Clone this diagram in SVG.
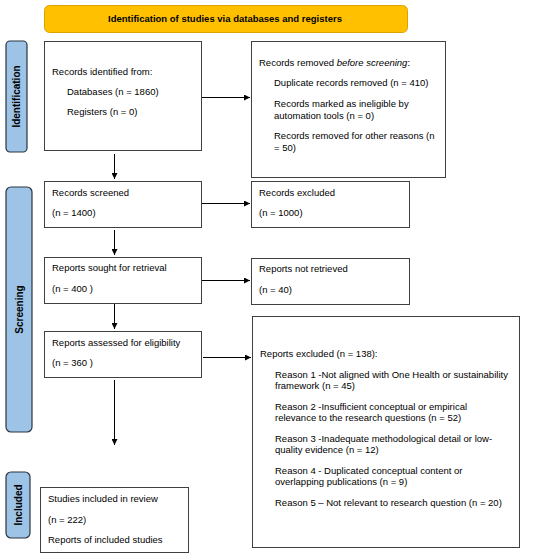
<svg xmlns="http://www.w3.org/2000/svg" width="550" height="556" viewBox="0 0 550 556">
<defs>
<marker id="ah" viewBox="0 0 10 10" refX="10" refY="5" markerWidth="6" markerHeight="6" markerUnits="userSpaceOnUse" orient="auto">
<path d="M0,0 L10,5 L0,10 z" fill="#000"/>
</marker>
<style>
text{font-family:"Liberation Sans",Arial,sans-serif;font-size:9.5px;fill:#000}
.box{fill:#fff;stroke:#404040;stroke-width:1}
.side{fill:#9DC3E6;stroke:#2a3440;stroke-width:1.2}
.lbl{font-weight:bold;font-size:10px}
.conn{stroke:#000;stroke-width:1;fill:none;marker-end:url(#ah)}
</style>
</defs>
<rect width="550" height="556" fill="#fff"/>
<g id="banner">
<rect x="44.5" y="5.5" width="363" height="27" rx="5" fill="#FFC000" stroke="#D9A400"/>
<text x="225" y="22" text-anchor="middle" font-weight="bold">Identification of studies via databases and registers</text>
</g>
<g id="side-identification">
<rect class="side" x="6" y="41" width="21" height="111" rx="4"/>
<text class="lbl" transform="translate(20,96.5) rotate(-90)" text-anchor="middle">Identification</text>
</g>
<g id="side-screening">
<rect class="side" x="6" y="187" width="26" height="245" rx="5"/>
<text class="lbl" transform="translate(22.5,309.5) rotate(-90)" text-anchor="middle">Screening</text>
</g>
<g id="side-included">
<rect class="side" x="6" y="472" width="24" height="66" rx="5"/>
<text class="lbl" transform="translate(21.5,505) rotate(-90)" text-anchor="middle">Included</text>
</g>
<g id="records-identified">
<rect class="box" x="44.5" y="41.5" width="157" height="109"/>
<text x="52" y="74.5">Records identified from:</text>
<text x="67" y="95">Databases (n = 1860)</text>
<text x="67" y="115">Registers (n = 0)</text>
</g>
<g id="records-removed">
<rect class="box" x="251.5" y="41.5" width="194" height="136"/>
<text x="259" y="66">Records removed <tspan font-style="italic">before screening</tspan>:</text>
<text x="274" y="86">Duplicate records removed (n = 410)</text>
<text x="274" y="106.5">Records marked as ineligible by</text>
<text x="274" y="118.5">automation tools (n = 0)</text>
<text x="274" y="139">Records removed for other reasons (n</text>
<text x="274" y="151">= 50)</text>
</g>
<g id="records-screened">
<rect class="box" x="44.5" y="181.5" width="157" height="46"/>
<text x="52" y="195.5">Records screened</text>
<text x="52" y="216">(n = 1400)</text>
</g>
<g id="records-excluded">
<rect class="box" x="251.5" y="181.5" width="158" height="46"/>
<text x="259" y="195.5">Records excluded</text>
<text x="259" y="216">(n = 1000)</text>
</g>
<g id="reports-sought">
<rect class="box" x="44.5" y="257.5" width="157" height="46"/>
<text x="52" y="271">Reports sought for retrieval</text>
<text x="52" y="292">(n = 400 )</text>
</g>
<g id="reports-not-retrieved">
<rect class="box" x="251.5" y="258.5" width="158" height="46"/>
<text x="259" y="272">Reports not retrieved</text>
<text x="259" y="293">(n = 40)</text>
</g>
<g id="reports-assessed">
<rect class="box" x="44.5" y="331.5" width="157" height="46"/>
<text x="52" y="345.5">Reports assessed for eligibility</text>
<text x="52" y="366">(n = 360 )</text>
</g>
<g id="reports-excluded">
<rect class="box" x="252.5" y="316.5" width="267" height="231"/>
<text x="260" y="357">Reports excluded (n = 138):</text>
<text x="275" y="378">Reason 1 -Not aligned with One Health or sustainability</text>
<text x="275" y="389">framework (n = 45)</text>
<text x="275" y="410">Reason 2 -Insufficient conceptual or empirical</text>
<text x="275" y="421">relevance to the research questions (n = 52)</text>
<text x="275" y="442">Reason 3 -Inadequate methodological detail or low-</text>
<text x="275" y="453">quality evidence (n = 12)</text>
<text x="275" y="474">Reason 4 - Duplicated conceptual content or</text>
<text x="275" y="485">overlapping publications (n = 9)</text>
<text x="275" y="506">Reason 5 – Not relevant to research question (n = 20)</text>
</g>
<g id="studies-included">
<rect class="box" x="40.5" y="487.5" width="148" height="65"/>
<text x="48" y="501.5">Studies included in review</text>
<text x="48" y="522.5">(n = 222)</text>
<text x="48" y="543">Reports of included studies</text>
</g>
<g id="connectors">
<line class="conn" x1="202" y1="97.5" x2="250" y2="97.5"/>
<line class="conn" x1="114.5" y1="154" x2="114.5" y2="179"/>
<line class="conn" x1="202" y1="203.5" x2="250" y2="203.5"/>
<line class="conn" x1="114.5" y1="230" x2="114.5" y2="255"/>
<line class="conn" x1="202" y1="280.5" x2="250" y2="280.5"/>
<line class="conn" x1="114.5" y1="304" x2="114.5" y2="329"/>
<line class="conn" x1="203" y1="357.5" x2="251" y2="357.5"/>
<line class="conn" x1="114.5" y1="380" x2="114.5" y2="445"/>
</g>
</svg>
